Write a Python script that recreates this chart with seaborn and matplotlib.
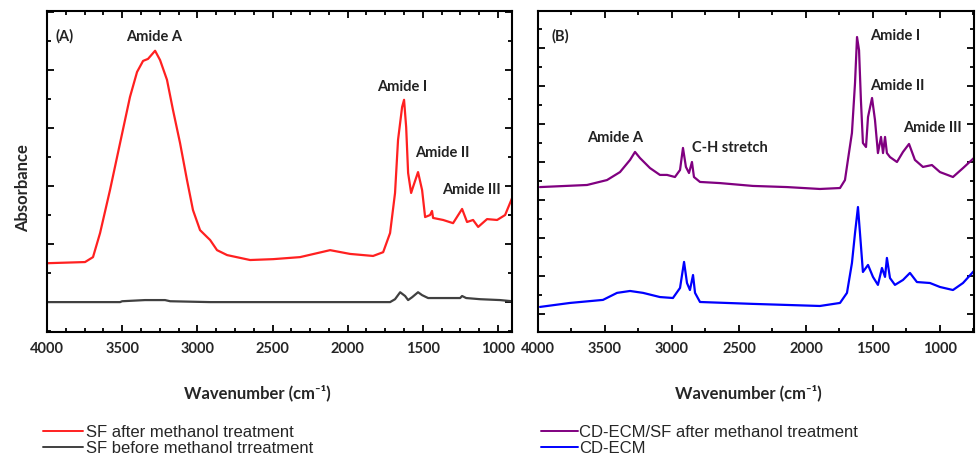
import matplotlib
matplotlib.use("Agg")
import matplotlib.pyplot as plt
from matplotlib.ticker import MultipleLocator
from matplotlib.lines import Line2D
import seaborn as sns

# ---- panel A: SF before / after methanol ----
wn_sf_after = [4000, 3747, 3694, 3647, 3581, 3514, 3448, 3401, 3361, 3328, 3281, 3248, 3202,
               3162, 3115, 3069, 3029, 2982, 2935, 2915, 2869, 2802, 2649, 2496, 2317, 2117,
               1984, 1831, 1764, 1718, 1685, 1665, 1638, 1625, 1611, 1598, 1578, 1565, 1532,
               1505, 1485, 1452, 1439, 1432, 1365, 1299, 1239, 1206, 1166, 1132, 1073, 1006,
               953, 906]
abs_sf_after = [0.334, 0.338, 0.355, 0.438, 0.586, 0.748, 0.907, 0.993, 1.031, 1.038, 1.066,
                1.034, 0.966, 0.862, 0.748, 0.621, 0.517, 0.448, 0.424, 0.414, 0.379, 0.362,
                0.345, 0.348, 0.355, 0.379, 0.366, 0.359, 0.372, 0.438, 0.576, 0.759, 0.872,
                0.897, 0.803, 0.645, 0.576, 0.597, 0.648, 0.586, 0.493, 0.500, 0.514, 0.490,
                0.483, 0.472, 0.521, 0.476, 0.483, 0.459, 0.486, 0.483, 0.500, 0.559]

wn_sf_before = [4000, 3514, 3500, 3348, 3215, 3181, 2915, 1718, 1685, 1651, 1618, 1598, 1571,
                1532, 1505, 1465, 1385, 1252, 1239, 1212, 1119, 986, 906]
abs_sf_before = [0.200, 0.200, 0.203, 0.207, 0.207, 0.203, 0.200, 0.200, 0.210, 0.234, 0.221,
                 0.207, 0.217, 0.234, 0.224, 0.214, 0.214, 0.214, 0.221, 0.214, 0.210, 0.207,
                 0.203]

# ---- panel B: CD-ECM and CD-ECM/SF ----
wn_cdsf = [3985, 3634, 3485, 3388, 3313, 3276, 3239, 3164, 3090, 3037, 2978, 2940, 2918, 2896,
           2873, 2851, 2836, 2791, 2642, 2396, 2142, 1896, 1746, 1709, 1687, 1657, 1634, 1619,
           1604, 1590, 1575, 1552, 1537, 1507, 1485, 1463, 1440, 1425, 1410, 1396, 1373, 1321,
           1276, 1231, 1187, 1127, 1060, 1000, 903, 828, 739]
abs_cdsf = [0.868, 0.879, 0.905, 0.947, 1.011, 1.053, 1.021, 0.968, 0.932, 0.932, 0.921, 0.958,
            1.074, 0.974, 0.942, 1.000, 0.921, 0.895, 0.889, 0.874, 0.868, 0.858, 0.863, 0.905,
            1.011, 1.153, 1.416, 1.658, 1.589, 1.326, 1.100, 1.079, 1.237, 1.337, 1.221, 1.047,
            1.132, 1.047, 1.132, 1.047, 1.026, 1.000, 1.053, 1.095, 1.011, 0.974, 0.984, 0.947,
            0.921, 0.968, 1.026]

wn_cdecm = [3985, 3761, 3515, 3410, 3313, 3216, 3090, 2993, 2940, 2910, 2888, 2866, 2843, 2828,
            2791, 2396, 1896, 1746, 1694, 1657, 1634, 1612, 1597, 1575, 1537, 1500, 1463, 1433,
            1410, 1396, 1373, 1336, 1276, 1224, 1172, 1075, 1000, 903, 828, 739]
abs_cdecm = [0.237, 0.258, 0.274, 0.311, 0.321, 0.311, 0.289, 0.284, 0.337, 0.474, 0.363, 0.326,
             0.405, 0.311, 0.263, 0.253, 0.242, 0.258, 0.311, 0.468, 0.626, 0.763, 0.626, 0.421,
             0.458, 0.395, 0.353, 0.442, 0.395, 0.495, 0.389, 0.353, 0.379, 0.416, 0.368, 0.363,
             0.342, 0.326, 0.363, 0.432]

xticks = [4000, 3500, 3000, 2500, 2000, 1500, 1000]

sns.set_style("ticks")
plt.rcParams['font.family'] = ['Lato', 'DejaVu Sans']

W, H = 977, 457
fig = plt.figure(figsize=(W / 100, H / 100), dpi=100)


def px_axes(l, t, r, b):
    return fig.add_axes([l / W, 1 - b / H, (r - l) / W, (b - t) / H])


axA = px_axes(47, 11, 512, 332)
axB = px_axes(538, 11, 974, 332)

sns.lineplot(x=wn_sf_after, y=abs_sf_after, ax=axA, color='#ff2020', lw=1.6, estimator=None)
sns.lineplot(x=wn_sf_before, y=abs_sf_before, ax=axA, color='#404040', lw=1.6, estimator=None)
sns.lineplot(x=wn_cdsf, y=abs_cdsf, ax=axB, color='#800080', lw=1.6, estimator=None)
sns.lineplot(x=wn_cdecm, y=abs_cdecm, ax=axB, color='#0000ff', lw=1.6, estimator=None)

axA.set_xlim(4000, 907)
axA.set_ylim(0.097, 1.203)
axB.set_xlim(4000, 746)
axB.set_ylim(0.105, 1.795)

for ax, minor, lx in [(axA, 125, 0.452), (axB, 250, 0.482)]:
    ax.set_xticks(xticks)
    ax.xaxis.set_minor_locator(MultipleLocator(minor))
    ax.yaxis.set_major_locator(MultipleLocator(0.2))
    ax.yaxis.set_minor_locator(MultipleLocator(0.1))
    ax.tick_params(which='both', direction='in', top=True, right=True, width=1.3, color='black')
    ax.tick_params(which='major', length=5)
    ax.tick_params(which='minor', length=3)
    ax.tick_params(axis='y', labelleft=False)
    ax.tick_params(axis='x', labelsize=10.5, pad=7)
    for lab in ax.get_xticklabels():
        lab.set_fontweight('bold')
    for s in ax.spines.values():
        s.set_linewidth(1.5)
        s.set_color('black')
    ax.set_xlabel('Wavenumber (cm⁻¹)', fontsize=12, fontweight='bold')
    ax.xaxis.set_label_coords(lx, -0.165)
    ax.set_ylabel('')

fig.text(23 / W, 1 - 188 / H, 'Absorbance', rotation=90, ha='center', va='center',
         fontsize=12, fontweight='bold')


def note(x, y, s, ha='center'):
    fig.text(x / W, 1 - y / H, s, ha=ha, va='center', fontsize=10.5, fontweight='bold',
             color='#222222')


note(55, 36, '(A)', ha='left')
note(154, 37, 'Amide A')
note(402, 87, 'Amide I')
note(442, 153, 'Amide II')
note(471, 190, 'Amide III')

note(551, 36, '(B)', ha='left')
note(615, 138, 'Amide A')
note(692, 148, 'C-H stretch', ha='left')
note(870, 36, 'Amide I', ha='left')
note(870, 86, 'Amide II', ha='left')
note(932, 128, 'Amide III')

leg_font = {'family': ['Liberation Sans', 'DejaVu Sans'], 'size': 12}
fig.legend(handles=[Line2D([], [], color='#ff2020', lw=1.4),
                    Line2D([], [], color='#404040', lw=1.4)],
           labels=['SF after methanol treatment', 'SF before methanol trreatment'],
           loc='upper left', bbox_to_anchor=(43 / W, 1 - 425 / H), frameon=False,
           borderpad=0, borderaxespad=0, handlelength=2.4, handletextpad=0.2,
           labelspacing=0.05, prop=leg_font)
fig.legend(handles=[Line2D([], [], color='#800080', lw=1.4),
                    Line2D([], [], color='#0000ff', lw=1.4)],
           labels=['CD-ECM/SF after methanol treatment', 'CD-ECM'],
           loc='upper left', bbox_to_anchor=(541 / W, 1 - 425 / H), frameon=False,
           borderpad=0, borderaxespad=0, handlelength=2.2, handletextpad=0.1,
           labelspacing=0.05, prop=leg_font)

fig.savefig('out.png', dpi=100)
